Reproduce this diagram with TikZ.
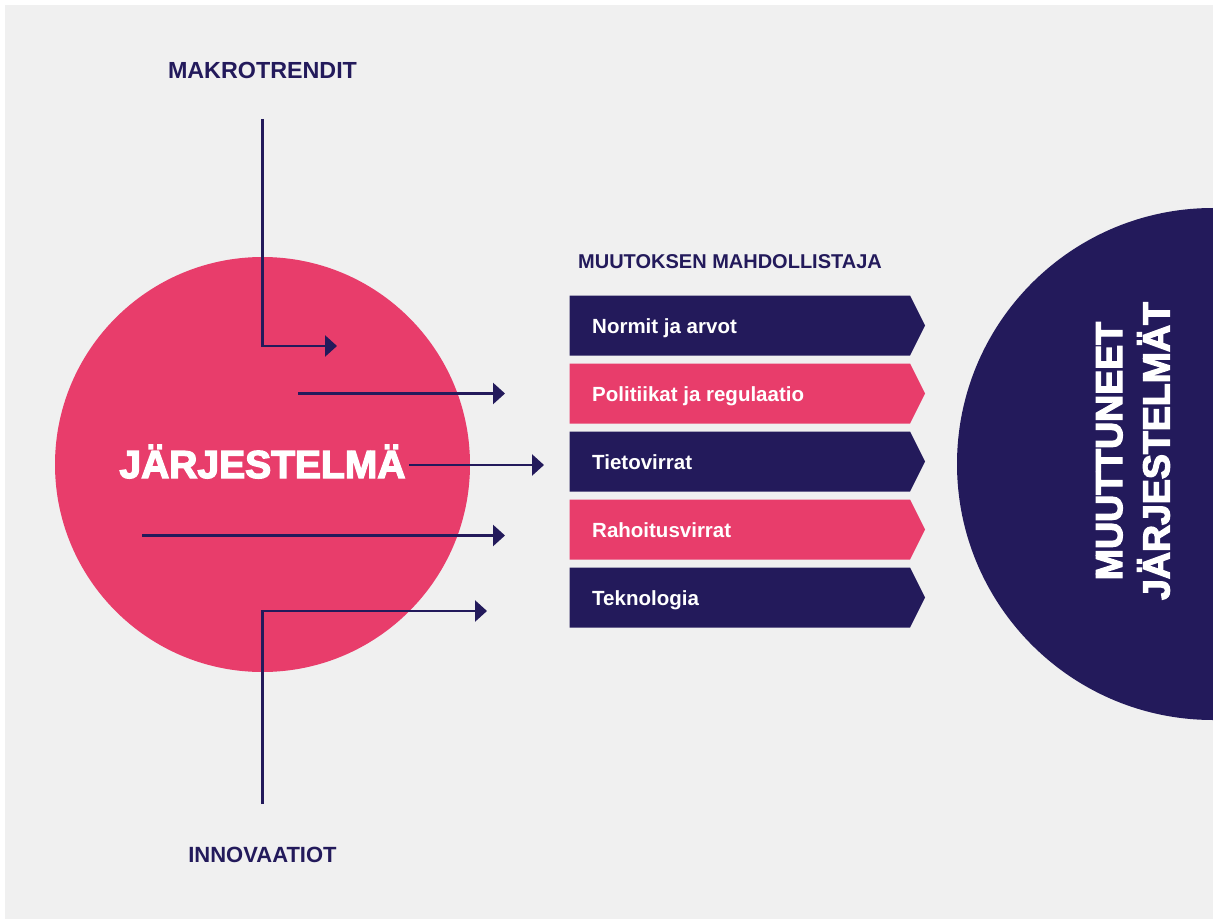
\documentclass[tikz,border=0pt]{standalone}
\usepackage{fontspec}
\setmainfont{Liberation Sans}
\newfontfamily\heavyfont{Liberation Sans}[BoldFeatures={FakeBold=3.5}]
\usetikzlibrary{arrows.meta}
\definecolor{bgc}{HTML}{F0F0F0}
\definecolor{navy}{HTML}{231A5B}
\definecolor{pinkc}{HTML}{E83D6B}
\tikzset{
  arr/.style={draw=navy, line width=2.6pt, -{Triangle[length=12pt,width=21pt]}},
  label/.style={text=navy, font=\bfseries\fontsize{23.3}{28}\selectfont, inner sep=0pt, anchor=base},
  boxtext/.style={text=white, font=\bfseries\fontsize{20.5}{25}\selectfont, inner sep=0pt, anchor=base west},
  heavy/.style={text=white, font=\heavyfont\bfseries\fontsize{39}{47.3}\selectfont, inner sep=0pt}
}
\begin{document}
\begin{tikzpicture}[x=1pt,y=-1pt]
\useasboundingbox (0,0) rectangle (1213,920);
\clip (0,0) rectangle (1213,920);
\fill[white] (0,0) rectangle (1213,920);
\fill[bgc] (5,5) rectangle (1213,919);
% circles
\node[circle, fill=pinkc, minimum size=415pt, inner sep=0pt] (sys) at (262.5,464.5) {};
\node[circle, fill=navy, minimum size=512pt, inner sep=0pt] (newsys) at (1213,464) {};
% labels
\node[label] (makro) at (262.5,78.3) {MAKROTRENDIT};
\node[label, font=\bfseries\fontsize{22}{28}\selectfont] (inno) at (262.5,862.5) {INNOVAATIOT};
\node[label, anchor=base west, font=\bfseries\fontsize{20}{25}\selectfont] (enabler) at (578,268.3) {MUUTOKSEN MAHDOLLISTAJA};
% boxes
\foreach \i/\t/\c in {0/{Normit ja arvot}/navy, 1/{Politiikat ja regulaatio}/pinkc, 2/{Tietovirrat}/navy, 3/{Rahoitusvirrat}/pinkc, 4/{Teknologia}/navy}{
  \pgfmathsetmacro\yc{325.5+68*\i}
  \fill[\c] (569.5,\yc-30) -- (910,\yc-30) -- (925,\yc) -- (910,\yc+30) -- (569.5,\yc+30) -- cycle;
  \node[boxtext] (box\i) at (592,\yc+7.5) {\t};
}
% big texts
\node[heavy, anchor=base] (systext) at (262.5,478) {JÄRJESTELMÄ};
\node[heavy, rotate=90, align=center, font=\heavyfont\bfseries\fontsize{37.5}{47.3}\selectfont] (newtext) at (1133,451) {MUUTTUNEET\\JÄRJESTELMÄT};
% arrow coordinates
\coordinate (m0) at (262.5,119);
\coordinate (m1) at (262.5,346);
\coordinate (m2) at (337,346);
\coordinate (a2s) at (298,393.5);
\coordinate (a2e) at (505,393.5);
\coordinate (a3s) at (409,465);
\coordinate (a3e) at (544,465);
\coordinate (a4s) at (142,535.5);
\coordinate (a4e) at (505,535.5);
\coordinate (i0) at (262.5,804);
\coordinate (i1) at (262.5,611);
\coordinate (i2) at (487,611);
\draw[arr] (m0) -- (m1) -- (m2);
\draw[arr] (a2s) -- (a2e);
\draw[arr] (a3s) -- (a3e);
\draw[arr] (a4s) -- (a4e);
\draw[arr] (i0) -- (i1) -- (i2);
\end{tikzpicture}
\end{document}
